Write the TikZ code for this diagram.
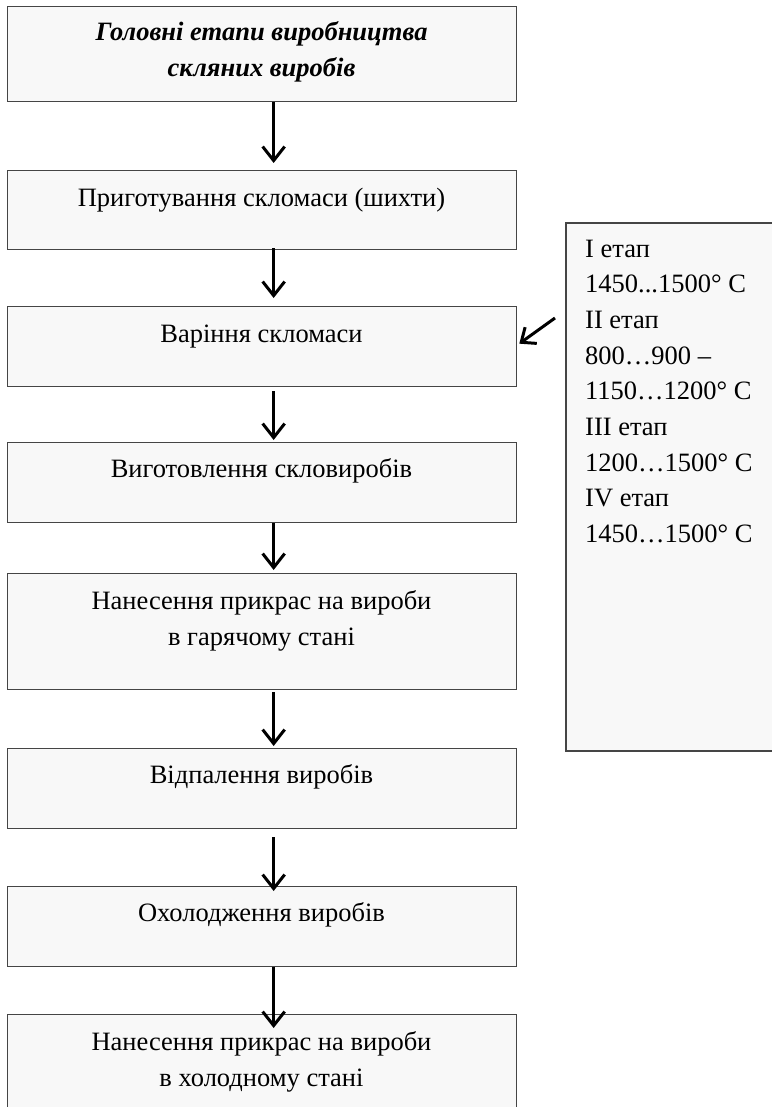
\documentclass[tikz,border=0pt]{standalone}
\usepackage{fontspec}
\setmainfont{Liberation Serif}
\usetikzlibrary{arrows.meta,calc}
\definecolor{boxfill}{HTML}{F8F8F8}
\definecolor{boxline}{HTML}{454545}
\begin{document}
\begin{tikzpicture}[x=1pt,y=-1pt,
  box/.style={draw=boxline, line width=1.3pt, fill=boxfill, minimum width=509pt, inner sep=0pt, anchor=north west},
  sidebox/.style={draw=boxline, line width=1.6pt, fill=boxfill, minimum width=230pt, minimum height=528pt, inner sep=0pt, anchor=north west},
  txt/.style={font=\fontsize{26.5}{36}\selectfont, align=center, anchor=base, inner sep=0pt},
  sidetxt/.style={font=\fontsize{26.5}{35.7}\selectfont, align=left, anchor=base west, inner sep=0pt},
  arr/.style={line width=3pt, -{Straight Barb[length=14pt,width=22pt,line width=3pt]}},
  darr/.style={line width=3pt, -{Straight Barb[length=12pt,width=20pt,line width=3pt]}}]
\useasboundingbox (0,0) rectangle (771,1107);
\fill[white] (0,0) rectangle (771,1107);

% main boxes
\node[box, minimum height=95pt]  (b1) at (7,6) {};
\node[box, minimum height=79pt]  (b2) at (7,170) {};
\node[box, minimum height=80pt]  (b3) at (7,306) {};
\node[box, minimum height=80pt]  (b4) at (7,442) {};
\node[box, minimum height=116pt] (b5) at (7,573) {};
\node[box, minimum height=80pt]  (b6) at (7,748) {};
\node[box, minimum height=80pt]  (b7) at (7,886) {};
\node[box, minimum height=110pt] (b8) at (7,1014) {};

% side box
\node[sidebox] (s) at (565,222) {};

% texts (base anchor = baseline of the last line)
\node[txt] (t1) at (261.5,77) {\textbf{\textit{Головні етапи виробництва}}\\\textbf{\textit{скляних виробів}}};
\node[txt] (t2) at (261.5,207) {Приготування скломаси (шихти)};
\node[txt] (t3) at (261.5,342) {Варіння скломаси};
\node[txt] (t4) at (261.5,477) {Виготовлення скловиробів};
\node[txt] (t5) at (261.5,645) {Нанесення прикрас на вироби\\в гарячому стані};
\node[txt] (t6) at (261.5,783) {Відпалення виробів};
\node[txt] (t7) at (261.5,921) {Охолодження виробів};
\node[txt] (t8) at (261.5,1086) {Нанесення прикрас на вироби\\в холодному стані};

\node[sidetxt] (st) at (585,542.6) {I етап\\1450...1500° C\\II етап\\800…900 –\\1150…1200° C\\III етап\\1200…1500° C\\IV етап\\1450…1500° C};

% arrows
\draw[arr] ($(b1.south)+(11.5,0)$) -- ($(b2.north)+(11.5,-7)$);
\draw[arr] ($(b2.south)+(11.5,-2)$) -- ($(b3.north)+(11.5,-8)$);
\draw[arr] ($(b3.south)+(11.5,4)$) -- ($(b4.north)+(11.5,-2)$);
\draw[arr] ($(b4.south)+(11.5,0)$) -- ($(b5.north)+(11.5,-3)$);
\draw[arr] ($(b5.south)+(11.5,2)$) -- ($(b6.north)+(11.5,-2)$);
\draw[arr] ($(b6.south)+(11.5,8)$) -- ($(b7.north)+(11.5,5)$);
\draw[arr] ($(b7.south)+(11.5,0)$) -- ($(b8.north)+(11.5,14)$);
\draw[darr] ($(s.north west)+(-10,96)$) -- ($(b3.east)+(2,-3)$);
\end{tikzpicture}
\end{document}
